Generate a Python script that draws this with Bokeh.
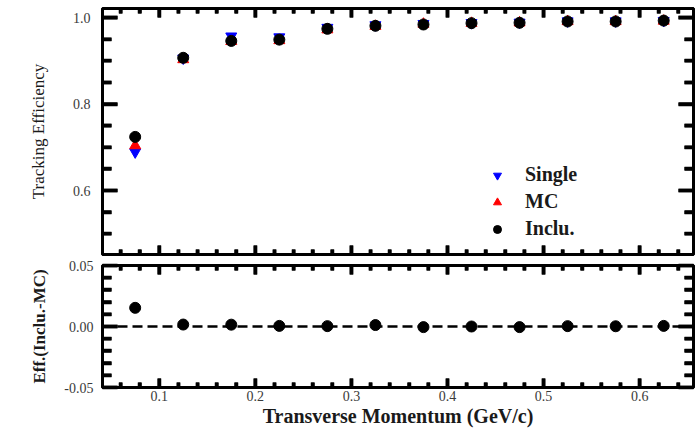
from bokeh.plotting import figure
from bokeh.layouts import column
from bokeh.models import (Range1d, LinearAxis, FixedTicker, NumeralTickFormatter,
                          Legend, LegendItem, Span)
from bokeh.embed import file_html
from bokeh.resources import INLINE

# ---- data ----
pt = [0.075, 0.125, 0.175, 0.225, 0.275, 0.325, 0.375, 0.425, 0.475, 0.525, 0.575, 0.625]
eff_single = [0.689, 0.906, 0.957, 0.955, 0.977, 0.983, 0.986, 0.988, 0.989, 0.992, 0.992, 0.993]
eff_mc     = [0.704, 0.903, 0.945, 0.947, 0.972, 0.980, 0.985, 0.987, 0.988, 0.991, 0.991, 0.992]
eff_inclu  = [0.724, 0.907, 0.946, 0.949, 0.974, 0.981, 0.984, 0.987, 0.988, 0.991, 0.991, 0.993]
diff_inclu_mc = [0.0153, 0.0016, 0.0015, 0.0005, 0.0003, 0.0012, -0.0005, 0.0000, -0.0005, 0.0003, 0.0002, 0.0005]

x_major = [0.1, 0.2, 0.3, 0.4, 0.5, 0.6]
x_minor = [0.06, 0.08, 0.12, 0.14, 0.16, 0.18, 0.22, 0.24, 0.26, 0.28, 0.32, 0.34, 0.36, 0.38,
           0.42, 0.44, 0.46, 0.48, 0.52, 0.54, 0.56, 0.58, 0.62, 0.64]
top_major = [0.6, 0.8, 1.0]
top_minor = [0.5, 0.55, 0.65, 0.7, 0.75, 0.85, 0.9, 0.95]
bot_major = [-0.05, 0.0, 0.05]
bot_minor = [-0.04, -0.03, -0.02, -0.01, 0.01, 0.02, 0.03, 0.04]

FONT = "Liberation Serif"
TICKC = "#3a3a3a"

X0, X1 = 0.041, 0.656
FW = 591
xr = Range1d(X0, X1)


def tick_axis(ax, major, minor, tin, tmin, labels=True, fmt="0.0", standoff=5):
    ax.ticker = FixedTicker(ticks=major, minor_ticks=minor)
    ax.axis_line_color = "black"
    ax.axis_line_width = 3
    ax.major_tick_line_color = "black"
    ax.minor_tick_line_color = "black"
    ax.major_tick_line_width = 3.5
    ax.minor_tick_line_width = 3.5
    ax.major_tick_in = tin
    ax.major_tick_out = 0
    ax.minor_tick_in = tmin
    ax.minor_tick_out = 0
    if labels:
        ax.formatter = NumeralTickFormatter(format=fmt)
        ax.major_label_standoff = standoff
        ax.major_label_text_font = FONT
        ax.major_label_text_font_size = "14px"
        ax.major_label_text_color = TICKC
        ax.axis_label_text_font = FONT
        ax.axis_label_text_color = "#1a1a1a"
    else:
        ax.major_label_overrides = {t: "" for t in major}
        ax.major_label_standoff = 0


def inward_ticks(p, ymaj, ymin, y0, y1, fh):
    dx = (X1 - X0) / FW      # data per pixel, x
    dy = (y1 - y0) / fh      # data per pixel, y
    kw = dict(fill_color="black", line_color=None)
    hw = 1.8
    for xs, L in ((x_major, 9), (x_minor, 5)):
        lefts = [v - hw * dx for v in xs]
        rights = [v + hw * dx for v in xs]
        n = len(xs)
        p.quad(left=lefts, right=rights, bottom=[y0] * n, top=[y0 + L * dy] * n, **kw)
        p.quad(left=lefts, right=rights, bottom=[y1 - L * dy] * n, top=[y1] * n, **kw)
    for ys, L in ((ymaj, 15), (ymin, 9)):
        bots = [v - hw * dy for v in ys]
        tops = [v + hw * dy for v in ys]
        n = len(ys)
        p.quad(left=[X0] * n, right=[X0 + L * dx] * n, bottom=bots, top=tops, **kw)
        p.quad(left=[X1 - L * dx] * n, right=[X1] * n, bottom=bots, top=tops, **kw)


def base_fig(fh, yr, top, bottom):
    p = figure(frame_width=FW, frame_height=fh, x_range=xr, y_range=yr,
               output_backend="svg", toolbar_location=None,
               min_border_left=102, min_border_right=2, min_border_top=top,
               min_border_bottom=bottom, x_axis_location=None, y_axis_location=None)
    p.grid.visible = False
    p.outline_line_color = "black"
    p.outline_line_width = 3
    return p


# ---- top panel ----
T0, T1 = 0.452, 1.021
p1 = base_fig(246, Range1d(T0, T1), 8, 3)
ly1 = LinearAxis(axis_label="Tracking Efficiency")
tick_axis(ly1, top_major, top_minor, 15, 9, fmt="0.0", standoff=12)
ly1.axis_label_text_font_style = "normal"
ly1.axis_label_text_font_size = "17px"
ly1.axis_label_standoff = 22
p1.add_layout(ly1, "left")
ry1 = LinearAxis()
tick_axis(ry1, top_major, top_minor, 15, 9, labels=False)
p1.add_layout(ry1, "right")
ax1 = LinearAxis()
tick_axis(ax1, x_major, x_minor, 9, 5, labels=False)
p1.add_layout(ax1, "above")
bx1 = LinearAxis()
tick_axis(bx1, x_major, x_minor, 9, 5, labels=False)
p1.add_layout(bx1, "below")

r_single = p1.scatter(pt, eff_single, marker="inverted_triangle", size=11,
                      fill_color="#0000ff", line_color="#0000ff")
r_mc = p1.scatter(pt, eff_mc, marker="triangle", size=11,
                  fill_color="#ff0000", line_color="#ff0000")
r_inclu = p1.scatter(pt, eff_inclu, marker="circle", size=11,
                     fill_color="black", line_color="black")
inward_ticks(p1, top_major, top_minor, T0, T1, 246)

legend = Legend(items=[LegendItem(label="Single", renderers=[r_single]),
                       LegendItem(label="MC", renderers=[r_mc]),
                       LegendItem(label="Inclu.", renderers=[r_inclu])],
                location=(385, 14), orientation="vertical")
legend.background_fill_alpha = 0
legend.border_line_color = None
legend.label_text_font = FONT
legend.label_text_font_style = "bold"
legend.label_text_font_size = "20px"
legend.label_text_color = "#1a1a1a"
legend.label_height = 20
legend.glyph_width = 20
legend.glyph_height = 20
legend.spacing = 4
legend.padding = 5
legend.label_standoff = 18
legend.margin = 0
p1.add_layout(legend, "center")

# ---- bottom panel ----
B0, B1 = -0.05, 0.05
p2 = base_fig(122, Range1d(B0, B1), 8, 0)
ly2 = LinearAxis(axis_label="Eff.(Inclu.-MC)")
tick_axis(ly2, bot_major, bot_minor, 15, 9, fmt="0.00", standoff=9)
ly2.axis_label_text_font_style = "bold"
ly2.axis_label_text_font_size = "17px"
ly2.axis_label_standoff = 12
p2.add_layout(ly2, "left")
ry2 = LinearAxis()
tick_axis(ry2, bot_major, bot_minor, 15, 9, labels=False)
p2.add_layout(ry2, "right")
ax2 = LinearAxis()
tick_axis(ax2, x_major, x_minor, 9, 5, labels=False)
p2.add_layout(ax2, "above")
bx2 = LinearAxis(axis_label="Transverse Momentum (GeV/c)")
tick_axis(bx2, x_major, x_minor, 9, 5, fmt="0.0", standoff=3)
bx2.axis_label_text_font_style = "bold"
bx2.axis_label_text_font_size = "20px"
bx2.axis_label_standoff = 1
p2.add_layout(bx2, "below")

p2.add_layout(Span(location=0, dimension="width", line_color="black",
                   line_width=2.5, line_dash="10 5"))
p2.scatter(pt, diff_inclu_mc, marker="circle", size=11,
           fill_color="black", line_color="black")
inward_ticks(p2, bot_major, bot_minor, B0, B1, 122)

lay = column(p1, p2, spacing=0)
open("out.html", "w").write(file_html(lay, INLINE))
